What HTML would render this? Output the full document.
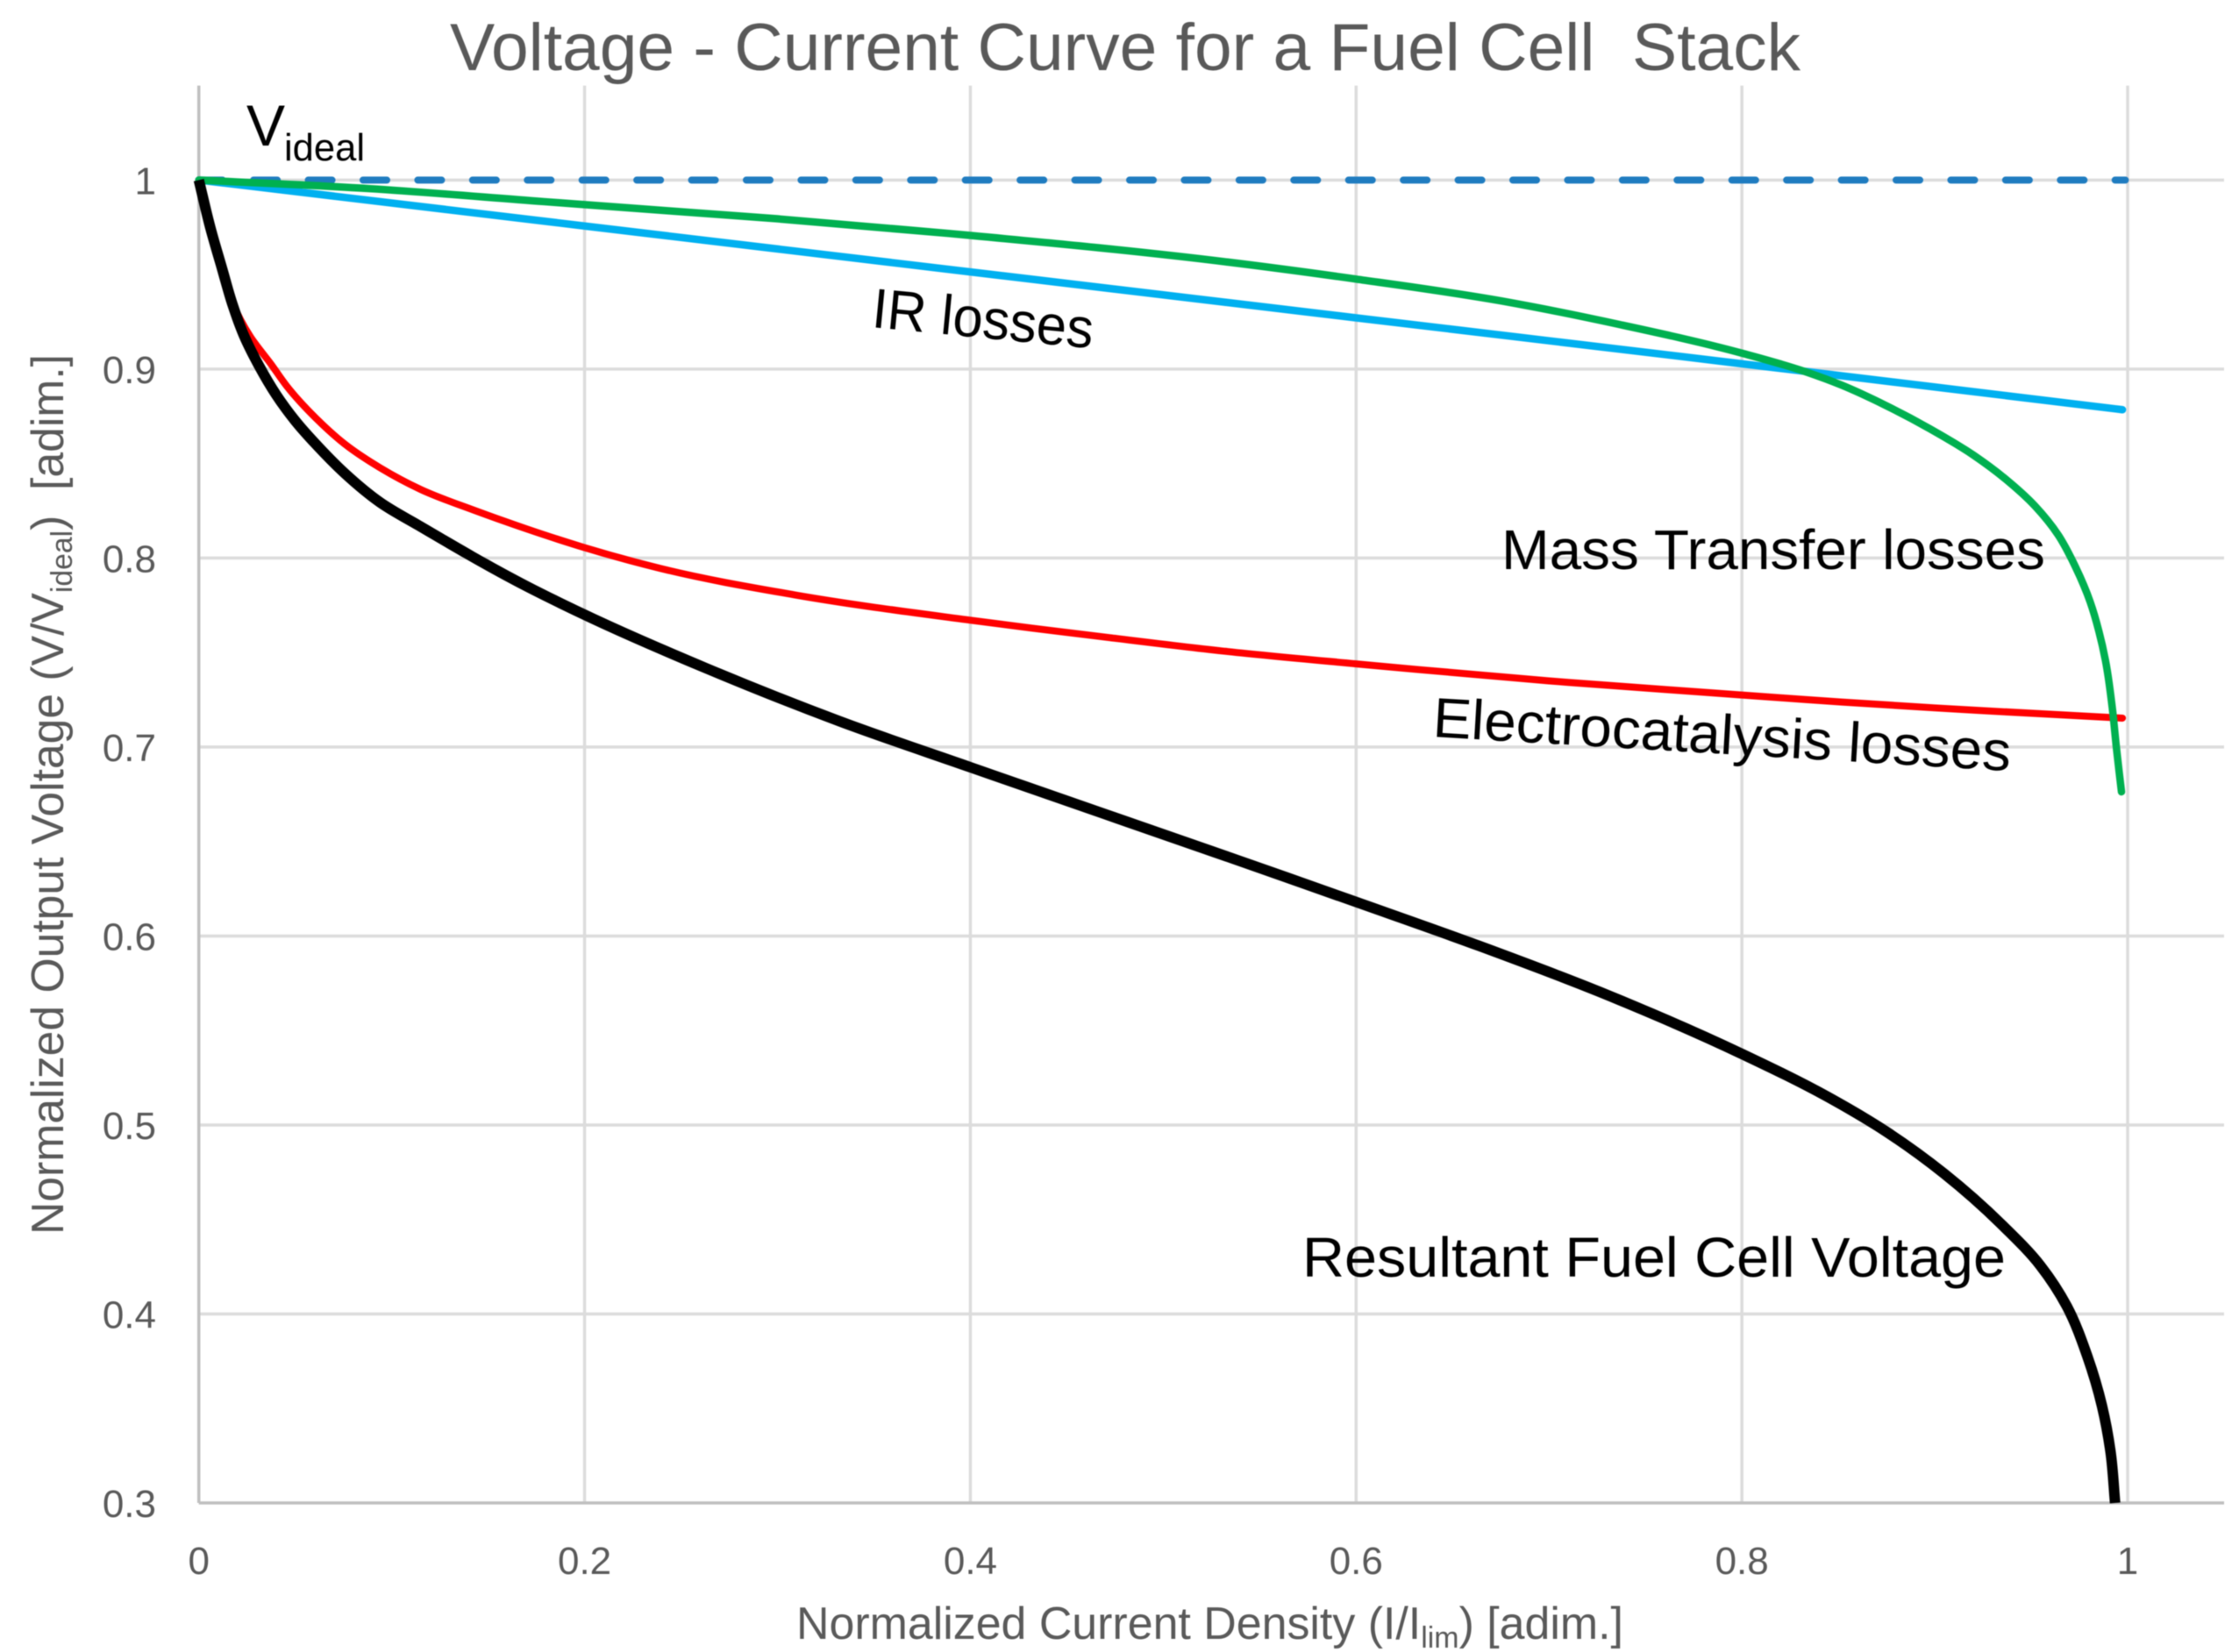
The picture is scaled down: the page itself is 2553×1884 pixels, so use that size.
<!DOCTYPE html>
<html lang="en">
<head>
<meta charset="utf-8">
<title>Voltage - Current Curve for a Fuel Cell Stack</title>
<style>
html,body{margin:0;padding:0;background:#fff;}
svg{display:block;font-family:"Liberation Sans",sans-serif;filter:blur(0.6px);}
</style>
</head>
<body>
<svg id="chart" xmlns="http://www.w3.org/2000/svg" width="2553" height="1884" viewBox="0 0 2553 1884">
  <rect width="2553" height="1884" fill="#fff"/>
  <g id="grid"></g>
  <g id="ticks"></g>
  <g id="series"></g>

  <text x="513" y="80" font-size="76" fill="#595959" textLength="1540" lengthAdjust="spacingAndGlyphs">Voltage - Current Curve for a Fuel Cell&#160; Stack</text>

  <text x="908" y="1869" font-size="52" fill="#595959" textLength="943" lengthAdjust="spacingAndGlyphs">Normalized Current Density (I/I<tspan font-size="34" dy="10">lim</tspan><tspan dy="-10">) [adim.]</tspan></text>

  <text transform="translate(72 1408) rotate(-90)" font-size="52" fill="#595959" textLength="1004" lengthAdjust="spacingAndGlyphs">Normalized Output Voltage (V/V<tspan font-size="34" dy="10">ideal</tspan><tspan dy="-10">)&#160; [adim.]</tspan></text>

  <text x="281" y="166" font-size="66" fill="#000">V</text>
  <text x="324" y="183" font-size="44" fill="#000" textLength="92" lengthAdjust="spacingAndGlyphs">ideal</text>
  <text transform="translate(993 373) rotate(5.5)" font-size="64" fill="#000" textLength="253" lengthAdjust="spacingAndGlyphs">IR losses</text>
  <text x="1712" y="649" font-size="64" fill="#000" textLength="620" lengthAdjust="spacingAndGlyphs">Mass Transfer losses</text>
  <text transform="translate(1633 840) rotate(3.4)" font-size="64" fill="#000" textLength="660" lengthAdjust="spacingAndGlyphs">Electrocatalysis losses</text>
  <text x="1485" y="1456" font-size="64" fill="#000" textLength="802" lengthAdjust="spacingAndGlyphs">Resultant Fuel Cell Voltage</text>
</svg>
<script>
const xTicks = [0, 0.2, 0.4, 0.6, 0.8, 1];
const yTicks = [0.3, 0.4, 0.5, 0.6, 0.7, 0.8, 0.9, 1];

const idealX = [0, 0.9988];
const idealY = [1, 1];

const irX = [0, 0.2, 0.4, 0.6, 0.8, 0.9973];
const irY = [1, 0.9757, 0.9514, 0.9271, 0.9028, 0.8785];

const massX = [0, 0.0879, 0.1788, 0.3, 0.4, 0.5335, 0.6, 0.6756, 0.7364, 0.8, 0.8332, 0.8517, 0.8745, 0.8973, 0.92, 0.9367, 0.9518, 0.964, 0.973, 0.9806, 0.9851, 0.9885, 0.992, 0.9942, 0.9968];
const massY = [1, 0.9955, 0.9886, 0.9795, 0.9707, 0.9566, 0.9476, 0.936, 0.9236, 0.9084, 0.8985, 0.8915, 0.8808, 0.8685, 0.8545, 0.8418, 0.8277, 0.8122, 0.7952, 0.7767, 0.7612, 0.7458, 0.721, 0.6993, 0.6763];

const electroX = [0, 0.006, 0.0121, 0.0178, 0.0265, 0.0375, 0.0455, 0.0606, 0.0758, 0.0939, 0.1152, 0.1424, 0.1697, 0.2, 0.2393, 0.3089, 0.4, 0.4712, 0.5335, 0.6, 0.7, 0.8, 0.8517, 0.9, 0.9973];
const electroY = [1, 0.9747, 0.953, 0.9344, 0.9175, 0.9025, 0.8911, 0.8741, 0.8602, 0.8478, 0.8362, 0.8254, 0.8155, 0.8055, 0.7945, 0.7805, 0.7671, 0.758, 0.7505, 0.744, 0.735, 0.7275, 0.7238, 0.7207, 0.7153];

const resultX = [0, 0.006, 0.0121, 0.0174, 0.0235, 0.0311, 0.0401, 0.05, 0.0621, 0.0758, 0.0939, 0.1144, 0.1697, 0.2, 0.2625, 0.332, 0.4, 0.4712, 0.5335, 0.6, 0.6634, 0.7263, 0.8, 0.8441, 0.8745, 0.9048, 0.935, 0.9548, 0.9685, 0.9791, 0.9867, 0.9912, 0.9935];
const resultY = [1, 0.9747, 0.953, 0.9344, 0.9175, 0.9019, 0.8864, 0.8726, 0.8587, 0.8447, 0.8295, 0.817, 0.7852, 0.77, 0.7419, 0.7137, 0.6893, 0.664, 0.6419, 0.618, 0.5949, 0.5704, 0.5376, 0.5151, 0.4967, 0.4743, 0.447, 0.4255, 0.404, 0.3776, 0.3513, 0.3265, 0.3];

const xDomain = [0, 1.05];
const yDomain = [0.3, 1.05];
const plotLeft = 226.7, plotRight = 2536, plotTop = 97.6, plotBottom = 1714;

function xScale(v) {
  return plotLeft + (v - xDomain[0]) / (xDomain[1] - xDomain[0]) * (plotRight - plotLeft);
}
function yScale(v) {
  return plotBottom - (v - yDomain[0]) / (yDomain[1] - yDomain[0]) * (plotBottom - plotTop);
}

const NS = 'http://www.w3.org/2000/svg';
const grid = document.getElementById('grid');
const ticks = document.getElementById('ticks');
const seriesGroup = document.getElementById('series');

function makeLine(x1, y1, x2, y2, color, width) {
  const l = document.createElementNS(NS, 'line');
  l.setAttribute('x1', x1);
  l.setAttribute('y1', y1);
  l.setAttribute('x2', x2);
  l.setAttribute('y2', y2);
  l.setAttribute('stroke', color);
  l.setAttribute('stroke-width', width);
  return l;
}

xTicks.forEach(function (t) {
  if (t !== 0) {
    const g = makeLine(xScale(t), plotTop, xScale(t), plotBottom, '#dcdcdc', 3.5);
    
    
    grid.appendChild(g);
  }
  const label = document.createElementNS(NS, 'text');
  
  
  label.setAttribute('x', xScale(t));
  label.setAttribute('y', 1795);
  label.setAttribute('text-anchor', 'middle');
  label.setAttribute('font-size', 44);
  label.setAttribute('fill', '#595959');
  label.textContent = String(t);
  ticks.appendChild(label);
});

yTicks.forEach(function (t) {
  if (t !== yDomain[0]) {
    const g = makeLine(plotLeft, yScale(t), plotRight, yScale(t), '#dcdcdc', 3.5);
    
    
    grid.appendChild(g);
  }
  const label = document.createElementNS(NS, 'text');
  
  
  label.setAttribute('x', 178);
  label.setAttribute('y', yScale(t) + 16);
  label.setAttribute('text-anchor', 'end');
  label.setAttribute('font-size', 44);
  label.setAttribute('fill', '#595959');
  label.textContent = String(t);
  ticks.appendChild(label);
});

const yAxisLine = makeLine(plotLeft, plotTop, plotLeft, plotBottom, '#bfbfbf', 3.5);


grid.appendChild(yAxisLine);

const xAxisLine = makeLine(plotLeft, plotBottom, plotRight, plotBottom, '#bfbfbf', 3.5);


grid.appendChild(xAxisLine);

function smoothPath(xs, ys) {
  const p = xs.map(function (x, i) { return [xScale(x), yScale(ys[i])]; });
  const n = p.length;
  const tangents = p.map(function (pt, i) {
    const a = p[Math.max(i - 1, 0)], b = p[Math.min(i + 1, n - 1)];
    let d0x = pt[0] - a[0], d0y = pt[1] - a[1];
    let d1x = b[0] - pt[0], d1y = b[1] - pt[1];
    const l0 = Math.hypot(d0x, d0y) || 1, l1 = Math.hypot(d1x, d1y) || 1;
    const tx = d0x / l0 * l1 + d1x / l1 * l0, ty = d0y / l0 * l1 + d1y / l1 * l0;
    const len = Math.hypot(tx, ty) || 1;
    return [tx / len, ty / len];
  });
  let d = 'M' + p[0][0].toFixed(2) + ' ' + p[0][1].toFixed(2);
  for (let i = 0; i < n - 1; i++) {
    const chord = Math.hypot(p[i + 1][0] - p[i][0], p[i + 1][1] - p[i][1]) / 3;
    d += 'C' + (p[i][0] + tangents[i][0] * chord).toFixed(2) + ' ' + (p[i][1] + tangents[i][1] * chord).toFixed(2) + ' ' +
      (p[i + 1][0] - tangents[i + 1][0] * chord).toFixed(2) + ' ' + (p[i + 1][1] - tangents[i + 1][1] * chord).toFixed(2) + ' ' +
      p[i + 1][0].toFixed(2) + ' ' + p[i + 1][1].toFixed(2);
  }
  return d;
}

function makeCurve(xs, ys, color, width, cap) {
  const c = document.createElementNS(NS, 'path');
  c.setAttribute('d', smoothPath(xs, ys));
  c.setAttribute('fill', 'none');
  c.setAttribute('stroke', color);
  c.setAttribute('stroke-width', width);
  c.setAttribute('stroke-linecap', cap);
  c.setAttribute('stroke-linejoin', 'round');
  seriesGroup.appendChild(c);
  return c;
}

const idealCurve = makeCurve(idealX, idealY, '#1f7cc0', 8, 'round');
idealCurve.setAttribute('stroke-dasharray', '27 35.43');



const irCurve = makeCurve(irX, irY, '#00b0f0', 8.5, 'round');



const electroCurve = makeCurve(electroX, electroY, '#ff0000', 8, 'round');



const massCurve = makeCurve(massX, massY, '#00b050', 8.5, 'round');



const resultCurve = makeCurve(resultX, resultY, '#000000', 12, 'butt');


</script>
</body>
</html>
